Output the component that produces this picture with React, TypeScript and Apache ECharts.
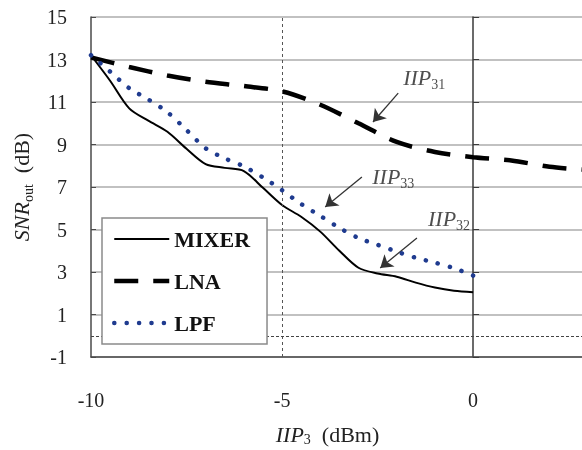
import React, { useEffect, useRef } from 'react';
import * as echarts from 'echarts';

// x positions (IIP3, dBm) for MIXER and LPF curves
const xSteps = [-10, -9.5, -9, -8.5, -8, -7.5, -7, -6.5, -6, -5.5, -5, -4.5, -4, -3.5, -3, -2.5, -2, -1.5, -1, -0.5, 0];
const mixerValues = [13.2, 12.0, 10.7, 10.12, 9.6, 8.8, 8.08, 7.9, 7.75, 6.96, 6.15, 5.6, 4.9, 4.0, 3.2, 2.93, 2.78, 2.5, 2.27, 2.12, 2.05];
const lpfValues = [13.2, 12.43, 11.65, 11.12, 10.52, 9.68, 8.82, 8.35, 7.97, 7.45, 6.85, 6.2, 5.64, 5.08, 4.6, 4.28, 3.96, 3.67, 3.44, 3.18, 2.83];
// LNA curve
const xLna = [-10, -9, -8, -7, -6, -5, -4, -3, -2, -1, 0, 1, 2, 3];
const lnaValues = [13.1, 12.65, 12.25, 11.95, 11.75, 11.5, 10.87, 10.0, 9.12, 8.65, 8.4, 8.25, 7.95, 7.8];

const seriesNames = ['MIXER', 'LNA', 'LPF'];
const yTicks = [-1, 1, 3, 5, 7, 9, 11, 13, 15];
const xTicks = [-10, -5, 0];

// annotations (data coordinates)
const annotationSubs = ['31', '33', '32'];
const annotationX = [-1.83, -2.64, -1.18];
const annotationY = [12.13, 7.5, 5.54];
const arrowStarts = [[-1.96, 11.42], [-2.91, 7.47], [-1.47, 4.6]];
const arrowEnds = [[-2.62, 10.06], [-3.87, 6.06], [-2.43, 3.19]];

const serif = '"Liberation Serif", "Times New Roman", serif';
const textColor = '#222';

const richName = {
  i: { fontFamily: serif, fontStyle: 'italic', fontSize: 22, color: textColor, lineHeight: 28 },
  s: { fontFamily: serif, fontSize: 14, color: textColor, lineHeight: 14, verticalAlign: 'bottom' },
  n: { fontFamily: serif, fontSize: 22, color: textColor, lineHeight: 28 },
};
const richXName = {
  i: { fontFamily: serif, fontStyle: 'italic', fontSize: 22, color: textColor, lineHeight: 23 },
  s: { fontFamily: serif, fontSize: 14, color: textColor, lineHeight: 12, verticalAlign: 'bottom' },
  n: { fontFamily: serif, fontSize: 22, color: textColor, lineHeight: 23 },
};

export default function App() {
  const ref = useRef<HTMLDivElement>(null);
  useEffect(() => {
    if (!ref.current) return;
    const chart = echarts.init(ref.current, undefined, { renderer: 'svg' });
    const option: any = {
      animation: false,
      textStyle: { fontFamily: serif },
      grid: { left: 91, top: 17, right: 0, bottom: 93, containLabel: false, outerBoundsMode: 'none' },
      legend: {
        data: seriesNames,
        orient: 'vertical',
        left: 102,
        top: 218,
        itemWidth: 55,
        itemHeight: 14,
        itemGap: 20,
        padding: [10, 17, 10, 10],
        borderColor: '#8a8a8a',
        borderWidth: 1.5,
        backgroundColor: '#fff',
        selectedMode: false,
        itemStyle: { opacity: 0 },
        lineStyle: { width: 'inherit', type: 'inherit', cap: 'inherit' },
        textStyle: { fontFamily: serif, fontWeight: 'bold', fontSize: 22, color: '#111' },
        z: 10,
      },
      xAxis: {
        type: 'value',
        min: -10,
        max: 2.85,
        axisLine: { onZero: false, lineStyle: { color: '#4a4a4a', width: 1.5 } },
        axisTick: { show: false },
        splitLine: { show: false },
        axisLabel: { customValues: xTicks, margin: 33, fontFamily: serif, fontSize: 20, color: textColor },
        name: '{i|IIP}{s|3}{n|  (dBm)}',
        nameLocation: 'middle',
        nameGap: 66,
        nameTextStyle: { rich: richXName, padding: [0, 18, 0, 0] },
      },
      yAxis: [
        {
          type: 'value',
          min: -1,
          max: 15,
          position: 'left',
          axisLine: { show: true, onZero: false, lineStyle: { color: '#4a4a4a', width: 1.5 } },
          axisTick: { show: true, inside: true, length: 5, customValues: yTicks, lineStyle: { color: '#4a4a4a' } },
          axisLabel: { customValues: yTicks, margin: 24, fontFamily: serif, fontSize: 20, color: textColor },
          splitLine: { show: true, lineStyle: { color: '#adadad', width: 1.5 } },
          name: '{i|SNR}{s|out}{n|  (dB)}',
          nameLocation: 'middle',
          nameGap: 56,
          nameTextStyle: { rich: richName },
        },
        {
          type: 'value',
          min: -1,
          max: 15,
          position: 'left',
          axisLine: { show: true, onZero: true, lineStyle: { color: '#3a3a3a', width: 1.5 } },
          axisTick: { show: true, inside: true, length: 6, customValues: yTicks, lineStyle: { color: '#3a3a3a' } },
          axisLabel: { show: false },
          splitLine: { show: false },
        },
      ],
      series: [
        {
          name: seriesNames[0],
          type: 'line',
          data: xSteps.map((x, i) => [x, mixerValues[i]]),
          symbol: 'none',
          smooth: 0.3,
          lineStyle: { color: '#000', width: 2 },
          itemStyle: { color: '#000' },
          z: 4,
          markLine: {
            silent: true,
            symbol: ['none', 'none'],
            label: { show: false },
            data: [
              { xAxis: -5, lineStyle: { type: [3, 3], color: '#555', width: 1 } },
              { yAxis: 0, lineStyle: { type: [3, 2], color: '#444', width: 1.2 } },
            ],
          },
        },
        {
          name: seriesNames[1],
          type: 'line',
          data: xLna.map((x, i) => [x, lnaValues[i]]),
          symbol: 'none',
          smooth: 0.3,
          lineStyle: { color: '#000', width: 4.5, type: [24, 15] },
          itemStyle: { color: '#000' },
          z: 4,
        },
        {
          name: seriesNames[2],
          type: 'line',
          data: xSteps.map((x, i) => [x, lpfValues[i]]),
          symbol: 'none',
          smooth: 0.3,
          lineStyle: { color: '#1f3b8f', width: 4.5, type: [0.1, 12.3], cap: 'round' },
          itemStyle: { color: '#1f3b8f' },
          z: 5,
        },
        {
          name: 'annotations',
          type: 'scatter',
          symbolSize: 0,
          silent: true,
          z: 6,
          data: annotationSubs.map((sub, i) => ({
            value: [annotationX[i], annotationY[i]],
            label: { formatter: '{i|IIP}{s|' + sub + '}' },
          })),
          label: { show: true, position: 'right', distance: 0, rich: richName },
          markLine: {
            silent: true,
            symbol: ['none', 'arrow'],
            symbolSize: 12,
            label: { show: false },
            lineStyle: { color: '#333', width: 1.3, type: 'solid' },
            itemStyle: { color: '#222' },
            data: arrowStarts.map((s, i) => [{ coord: s }, { coord: arrowEnds[i] }]),
          },
        },
      ],
    };
    chart.setOption(option);
    return () => chart.dispose();
  }, []);
  return <div ref={ref} style={{ position: 'fixed', left: 0, top: 0, width: 582, height: 450 }} />;
}
